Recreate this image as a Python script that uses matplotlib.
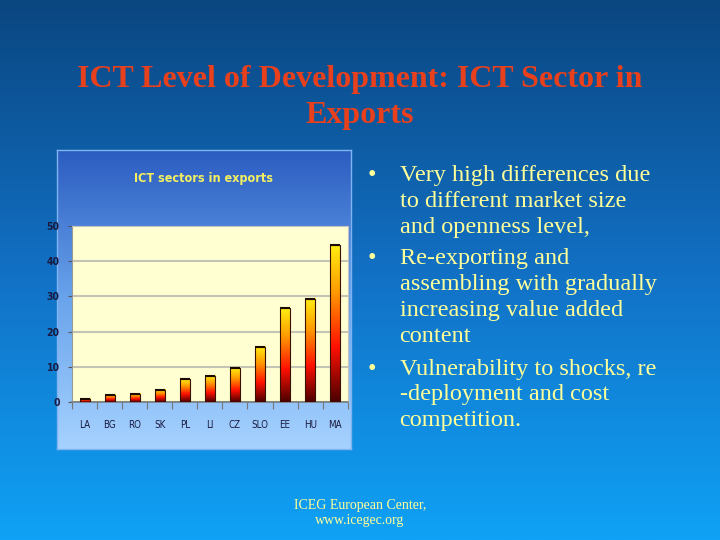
import matplotlib.pyplot as plt
import numpy as np
from matplotlib.colors import LinearSegmentedColormap

# data
countries = ["LA", "BG", "RO", "SK", "PL", "LI", "CZ", "SLO", "EE", "HU", "MA"]
ict_share = [0.95, 2.0, 2.4, 3.5, 6.5, 7.5, 9.6, 15.7, 26.6, 29.3, 44.6]
y_ticks = [0, 10, 20, 30, 40, 50]

slide_title = "ICT Level of Development: ICT Sector in\nExports"
chart_title = "ICT sectors in exports"
bullets = [
    "Very high differences due\nto different market size\nand openness level,",
    "Re-exporting and\nassembling with gradually\nincreasing value added\ncontent",
    "Vulnerability to shocks, re\n-deployment and cost\ncompetition.",
]
footer = "ICEG European Center,\nwww.icegec.org"

fig = plt.figure(figsize=(7.2, 5.4), dpi=100)

# slide background
bg = fig.add_axes([0, 0, 1, 1])
bg_cmap = LinearSegmentedColormap.from_list("slide", ["#0fa2f6", "#1270c4", "#0a4680"])
bg.imshow(np.linspace(0, 1, 256).reshape(-1, 1), cmap=bg_cmap, aspect="auto",
          origin="lower", extent=(0, 1, 0, 1))
bg.set_xlim(0, 1)
bg.set_ylim(0, 1)
bg.axis("off")

# chart picture panel
panel = fig.add_axes([0.079, 0.1685, 0.408, 0.554])
panel_cmap = LinearSegmentedColormap.from_list("panel", ["#a6d2ff", "#6aa4ec", "#2a5cc0"])
panel.imshow(np.linspace(0, 1, 256).reshape(-1, 1), cmap=panel_cmap, aspect="auto",
             origin="lower", extent=(0, 1, 0, 1))
panel.set_xlim(0, 1)
panel.set_ylim(0, 1)
panel.set_xticks([])
panel.set_yticks([])
for s in panel.spines.values():
    s.set_color("#7fb4f0")
    s.set_linewidth(1)
panel.text(0.5, 0.905, chart_title, transform=panel.transAxes, ha="center", va="center",
           color="#f4f060", fontsize=9, fontstretch="condensed", fontweight="bold",
           family="DejaVu Sans")

# bar chart
ax = fig.add_axes([0.1, 0.2556, 0.383, 0.3259])
ax.set_facecolor("#ffffd2")
bar_cmap = LinearSegmentedColormap.from_list(
    "bars", [(0, "#4a0000"), (0.35, "#ff1000"), (0.7, "#ff9a00"), (1, "#ffee10")])
grad = np.linspace(0, 1, 256).reshape(-1, 1)
x = np.arange(len(countries))
w = 0.4
for xi, v in zip(x, ict_share):
    ax.imshow(grad, cmap=bar_cmap, aspect="auto", origin="lower",
              extent=(xi - w / 2, xi + w / 2, 0, v), zorder=3)
ax.bar(x, ict_share, width=w, facecolor="none", edgecolor="#3a1000", linewidth=0.8, zorder=4)
ax.hlines(ict_share, x - w / 2, x + w / 2, color="#1a0a00", linewidth=1.5, zorder=5)

ax.set_xlim(-0.5, len(countries) - 0.5)
ax.set_ylim(0, 50)
ax.set_yticks(y_ticks)
ax.set_yticklabels([str(t) for t in y_ticks], fontsize=7.5, color="#1a1a40",
                   fontstretch="condensed", fontweight="bold")
ax.yaxis.grid(True, color="#c4c4b4", linewidth=1.5, zorder=0)
ax.set_axisbelow(True)
ax.tick_params(axis="y", length=3, color="#555555", pad=6)
ax.set_xticks(np.arange(len(countries) + 1) - 0.5)
ax.set_xticklabels([])
ax.set_xticks(x, minor=True)
ax.set_xticklabels(countries, minor=True, fontsize=7, color="#1a1a40",
                   fontstretch="condensed")
ax.tick_params(axis="x", which="major", length=5, color="#777777", direction="out")
ax.tick_params(axis="x", which="minor", length=0, pad=13)
for side in ["top", "right"]:
    ax.spines[side].set_color("#c4c4c4")
ax.spines["left"].set_color("#9a9a9a")
ax.spines["bottom"].set_color("#7a7a7a")
ax.spines["bottom"].set_linewidth(1.2)

# slide title
fig.text(0.5, 0.82, slide_title, ha="center", va="center", color="#e8401c",
         fontsize=23, fontweight="bold", family="Liberation Serif", linespacing=1.3)

# bullet points
tops = [0.694, 0.54, 0.336]
for top, text in zip(tops, bullets):
    fig.text(0.51, top, "\u2022", ha="left", va="top", color="#ffff99", fontsize=17.5,
             family="Liberation Serif")
    fig.text(0.555, top, text, ha="left", va="top", color="#ffff99", fontsize=17.5,
             family="Liberation Serif", linespacing=1.3)

fig.text(0.5, 0.05, footer, ha="center", va="center", color="#ffff99", fontsize=10,
         family="Liberation Serif", linespacing=1.25)

fig.savefig("out.png", dpi=100)
